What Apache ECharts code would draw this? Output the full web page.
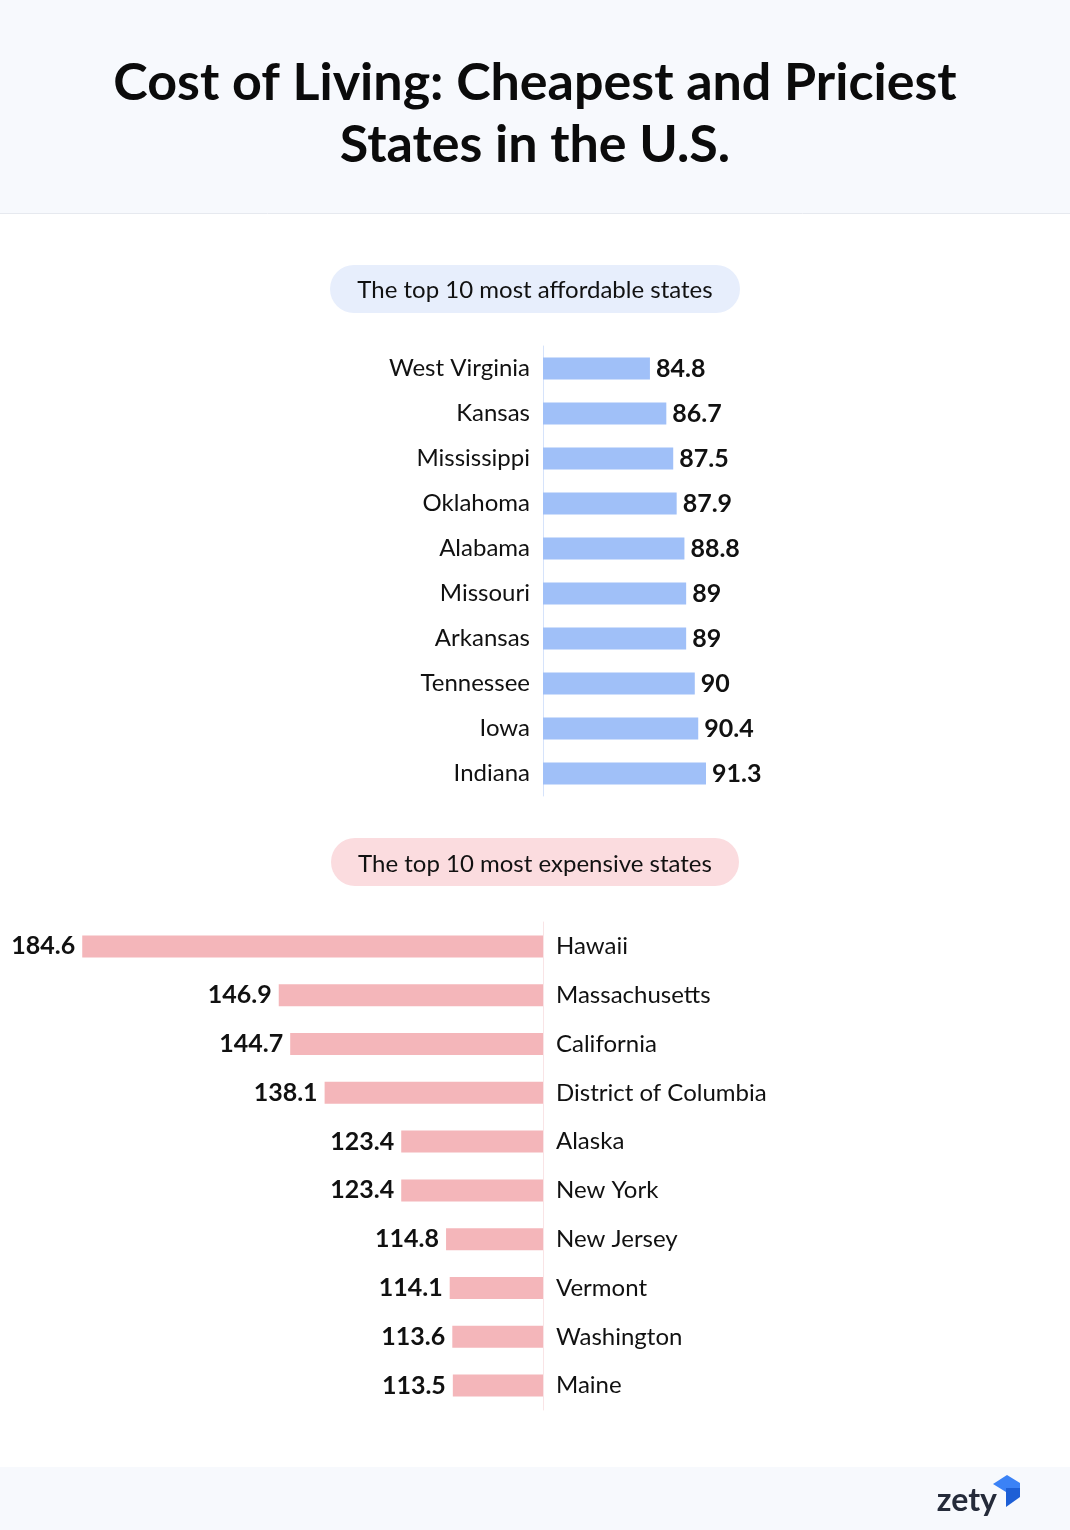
<!DOCTYPE html>
<html>
<head>
<meta charset="utf-8">
<script src="https://cdn.jsdelivr.net/npm/echarts@6/dist/echarts.min.js"></script>
<style>
  html, body { margin: 0; padding: 0; background: #ffffff; }
  #chart { width: 1070px; height: 1530px; }
</style>
</head>
<body>
<div id="chart"></div>
<script>
const affordableStates = ['West Virginia', 'Kansas', 'Mississippi', 'Oklahoma', 'Alabama', 'Missouri', 'Arkansas', 'Tennessee', 'Iowa', 'Indiana'];
const affordableValues = [84.8, 86.7, 87.5, 87.9, 88.8, 89, 89, 90, 90.4, 91.3];
const expensiveStates = ['Hawaii', 'Massachusetts', 'California', 'District of Columbia', 'Alaska', 'New York', 'New Jersey', 'Vermont', 'Washington', 'Maine'];
const expensiveValues = [184.6, 146.9, 144.7, 138.1, 123.4, 123.4, 114.8, 114.1, 113.6, 113.5];

const titleLines = ['Cost of Living: Cheapest and Priciest', 'States in the U.S.'];
const pillTop = 'The top 10 most affordable states';
const pillBottom = 'The top 10 most expensive states';

const FONT = 'Lato, "Noto Sans", sans-serif';
const chart = echarts.init(document.getElementById('chart'));

const option = {
  backgroundColor: '#ffffff',
  animation: false,
  grid: [
    { left: 543, right: 270, top: 346, height: 450 },
    { left: 52, right: 527, top: 922, height: 488 }
  ],
  xAxis: [
    { gridIndex: 0, type: 'value', min: 72.4, max: 102.2,
      axisLine: { show: false }, axisTick: { show: false }, axisLabel: { show: false }, splitLine: { show: false } },
    { gridIndex: 1, type: 'value', min: 96.2, max: 190.4, inverse: true,
      axisLine: { show: false }, axisTick: { show: false }, axisLabel: { show: false }, splitLine: { show: false } }
  ],
  yAxis: [
    { gridIndex: 0, type: 'category', data: affordableStates, inverse: true, position: 'left',
      axisLine: { show: true, onZero: false, lineStyle: { color: '#d6e3fb', width: 1 } },
      axisTick: { show: false },
      axisLabel: { margin: 13, color: '#111111', fontSize: 24, fontFamily: FONT } },
    { gridIndex: 1, type: 'category', data: expensiveStates, inverse: true, position: 'right',
      axisLine: { show: true, onZero: false, lineStyle: { color: '#f9e4e6', width: 1 } },
      axisTick: { show: false },
      axisLabel: { margin: 13, color: '#111111', fontSize: 24, fontFamily: FONT } }
  ],
  series: [
    { type: 'bar', xAxisIndex: 0, yAxisIndex: 0, data: affordableValues, barWidth: 22,
      itemStyle: { color: '#a0c0f8' },
      label: { show: true, position: 'right', distance: 6, color: '#111111', fontSize: 25, fontWeight: 'bold', fontFamily: FONT } },
    { type: 'bar', xAxisIndex: 1, yAxisIndex: 1, data: expensiveValues, barWidth: 22,
      itemStyle: { color: '#f4b6ba' },
      label: { show: true, position: 'left', distance: 7, color: '#111111', fontSize: 25, fontWeight: 'bold', fontFamily: FONT } }
  ],
  graphic: [
    { type: 'rect', z: -10, shape: { x: 0, y: 0, width: 1070, height: 213 }, style: { fill: '#f7f9fd' } },
    { type: 'line', z: -9, shape: { x1: 0, y1: 213.5, x2: 1070, y2: 213.5 }, style: { stroke: '#e6e9ef', lineWidth: 1 } },
    { type: 'text', x: 535, y: 83, style: { text: titleLines[0], align: 'center', verticalAlign: 'middle', font: 'bold 52px ' + FONT, fill: '#0b0b0b' } },
    { type: 'text', x: 535, y: 145, style: { text: titleLines[1], align: 'center', verticalAlign: 'middle', font: 'bold 52px ' + FONT, fill: '#0b0b0b' } },
    { type: 'rect', z: -5, shape: { x: 330, y: 265, width: 410, height: 48, r: 24 }, style: { fill: '#e7eefc' } },
    { type: 'text', x: 535, y: 290, style: { text: pillTop, align: 'center', verticalAlign: 'middle', font: '24px ' + FONT, fill: '#111111' } },
    { type: 'rect', z: -5, shape: { x: 331, y: 838, width: 408, height: 48, r: 24 }, style: { fill: '#fbdcdf' } },
    { type: 'text', x: 535, y: 864, style: { text: pillBottom, align: 'center', verticalAlign: 'middle', font: '24px ' + FONT, fill: '#111111' } },
    { type: 'rect', z: -10, shape: { x: 0, y: 1467, width: 1070, height: 63 }, style: { fill: '#f7f9fd' } },
    { type: 'text', x: 997, y: 1501, style: { text: 'zety', align: 'right', verticalAlign: 'middle', font: 'bold 32px ' + FONT, fill: '#252b3a' } },
    { type: 'polygon', shape: { points: [[993, 1484], [1007, 1475], [1020, 1483], [1020, 1492], [1006, 1492]] }, style: { fill: '#3b82f6' } },
    { type: 'polygon', shape: { points: [[1006, 1488], [1020, 1488], [1020, 1497], [1006, 1507]] }, style: { fill: '#1d5fd6' } }
  ]
};
chart.setOption(option);
</script>
</body>
</html>
